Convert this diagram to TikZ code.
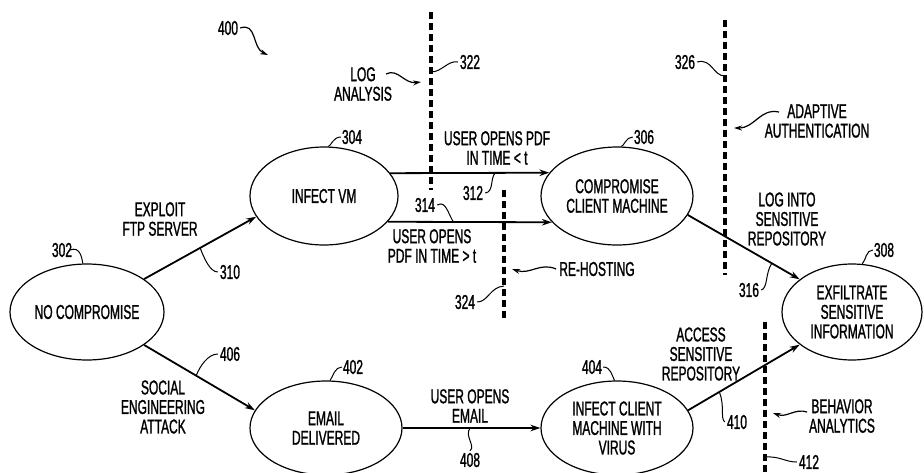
\documentclass[tikz,border=0pt]{standalone}
\usepackage{fontspec}
\setmainfont{Liberation Sans}[FakeStretch=0.6,FakeBold=1.2]
\usetikzlibrary{shapes.geometric,arrows.meta}
\newcommand\figfont{\fontsize{20}{19.5}\selectfont}
\begin{document}
\begin{tikzpicture}[x=1pt,y=-1pt,
  state/.style={ellipse,draw,line width=1.2pt,inner sep=0pt,align=center,font=\figfont},
  lbl/.style={font=\figfont,align=center,inner sep=0pt},
  flow/.style={line width=1.8pt,-{Stealth[length=10pt,width=6.5pt]}},
  lead/.style={line width=1pt},
  leadarrow/.style={line width=1.2pt,-{Stealth[length=8pt,width=5pt]}},
  barrier/.style={line width=3.6pt,dash pattern=on 7pt off 4pt}]
\useasboundingbox (0,0) rectangle (924,472);

% states
\node[state,minimum width=154pt,minimum height=96pt] (n302) at (87,312) {NO COMPROMISE};
\node[state,minimum width=148pt,minimum height=98pt] (n304) at (324,196) {INFECT VM};
\node[state,minimum width=152pt,minimum height=98pt] (n306) at (617,196) {COMPROMISE\\CLIENT MACHINE};
\node[state,minimum width=140pt,minimum height=96pt] (n308) at (852,312) {EXFILTRATE\\SENSITIVE\\INFORMATION};
\node[state,minimum width=152pt,minimum height=94pt] (n402) at (326,428) {EMAIL\\DELIVERED};
\node[state,minimum width=152pt,minimum height=94pt] (n404) at (617,428) {INFECT CLIENT\\MACHINE WITH\\VIRUS};

% transitions
\draw[flow] (n302.30) -- coordinate[pos=0.5] (c310) (n304.197);
\draw[flow] (n302.-30) -- coordinate[pos=0.47] (c406) (n402.166);
\draw[flow] (n304.19.4) -- coordinate[pos=0.66] (c312) (n306.161.1);
\draw[flow] (n304.-22.5) -- coordinate[pos=0.40] (c314) (n306.202);
\draw[flow] (n306.-15) -- coordinate[pos=0.75] (c316) (n308.148);
\draw[flow] (n402.east) -- coordinate[pos=0.49] (c408) (n404.west);
\draw[flow] (n404.14) -- coordinate[pos=0.28] (c410) (n308.212);

% transition labels
\node[lbl] (tftp) at (160,219) {EXPLOIT\\FTP SERVER};
\node[lbl] (tsoc) at (163,407) {SOCIAL\\ENGINEERING\\ATTACK};
\node[lbl] (tlt) at (497,148) {USER OPENS PDF\\IN TIME < t};
\node[lbl] (tgt) at (432,246) {USER OPENS\\PDF IN TIME > t};
\node[lbl] (tlog) at (787,219) {LOG INTO\\SENSITIVE\\REPOSITORY};
\node[lbl] (tmail) at (470,406) {USER OPENS\\EMAIL};
\node[lbl] (tacc) at (701,354) {ACCESS\\SENSITIVE\\REPOSITORY};

% barriers
\coordinate (b322a) at (431,12);  \coordinate (b322b) at (431,190);
\coordinate (b324a) at (504,190); \coordinate (b324b) at (504,320);
\coordinate (b326a) at (725,20);  \coordinate (b326b) at (725,275);
\coordinate (b412a) at (765,322); \coordinate (b412b) at (765,472);
\draw[barrier] (b322a) -- (b322b);
\draw[barrier] (b324a) -- (b324b);
\draw[barrier] (b326a) -- (b326b);
\draw[barrier] (b412a) -- (b412b);

% barrier names
\node[lbl] (nlog) at (363,84) {LOG\\ANALYSIS};
\node[lbl] (nrehost) at (597,269) {RE-HOSTING};
\node[lbl] (nadapt) at (817,121) {ADAPTIVE\\AUTHENTICATION};
\node[lbl] (nbeh) at (842,416) {BEHAVIOR\\ANALYTICS};
\coordinate (slog) at (386,74);   \coordinate (elog) at (421,82);
\coordinate (sadapt) at (779,112); \coordinate (eadapt) at (734,128);
\coordinate (erehost) at (512,269);
\coordinate (sbeh) at (807,412);  \coordinate (ebeh) at (773,413);
\draw[leadarrow] (slog) .. controls (398,68) and (404,84) .. (elog);
\draw[leadarrow] (sadapt) .. controls (760,108) and (755,128) .. (eadapt);
\draw[leadarrow] ([xshift=-3pt]nrehost.west) .. controls (540,262) and (530,275) .. (erehost);
\draw[leadarrow] (sbeh) .. controls (795,408) and (787,418) .. (ebeh);

% figure number
\node[lbl] (n400) at (228,28) {400};
\coordinate (c400) at (268,55);
\draw[leadarrow] ([xshift=2pt]n400.east) .. controls (257,22) and (252,48) .. (c400);

% reference numerals
\node[lbl] (r302) at (62,250) {302};
\node[lbl] (r304) at (352,137) {304};
\node[lbl] (r306) at (644,137) {306};
\node[lbl] (r308) at (884,250) {308};
\node[lbl] (r402) at (353,367) {402};
\node[lbl] (r404) at (592,367) {404};
\node[lbl] (r310) at (230,272) {310};
\node[lbl] (r406) at (230,354) {406};
\node[lbl] (r312) at (473,193) {312};
\node[lbl] (r314) at (425,205) {314};
\node[lbl] (r316) at (749,290) {316};
\node[lbl] (r410) at (737,422) {410};
\node[lbl] (r408) at (470,460) {408};
\node[lbl] (r322) at (470,62) {322};
\node[lbl] (r326) at (685,62) {326};
\node[lbl] (r324) at (465,302) {324};
\node[lbl] (r412) at (809,462) {412};
\coordinate (c322) at (431,72);
\coordinate (c326) at (725,76);
\coordinate (c324) at (504,286);
\coordinate (c412) at (765,457);

\draw[lead] ([xshift=-2pt]r302.east) .. controls (80,246) and (82,258) .. (n302.95);
\draw[lead] ([xshift=-1pt]r304.west) .. controls (333,137) and (331,146) .. (n304.85);
\draw[lead] ([xshift=-1pt]r306.west) .. controls (626,137) and (624,146) .. (n306.85);
\draw[lead] ([xshift=-1pt]r308.west) .. controls (866,250) and (866,260) .. (n308.78);
\draw[lead] ([xshift=-1pt]r402.west) .. controls (335,367) and (333,376) .. (n402.85);
\draw[lead] ([xshift=1pt]r404.east) .. controls (611,367) and (612,376) .. (n404.93);
\draw[lead] ([xshift=-2pt]r310.west) .. controls (210,272) and (204,258) .. (c310);
\draw[lead] ([xshift=-2pt]r406.west) .. controls (208,354) and (200,366) .. (c406);
\draw[lead] ([xshift=2pt]r312.east) .. controls (494,192) and (490,178) .. (c312);
\draw[lead] ([xshift=2pt]r314.east) .. controls (446,200) and (448,214) .. (c314);
\draw[lead] ([xshift=2pt]r316.east) .. controls (768,288) and (765,274) .. (c316);
\draw[lead] ([xshift=-2pt]r410.west) .. controls (720,418) and (725,406) .. (c410);
\draw[lead] ([yshift=2pt]r408.north) .. controls (476,446) and (464,436) .. (c408);
\draw[lead] ([xshift=-2pt]r322.west) .. controls (448,60) and (442,72) .. (c322);
\draw[lead] ([xshift=2pt]r326.east) .. controls (712,58) and (713,76) .. (c326);
\draw[lead] ([xshift=2pt]r324.east) .. controls (488,302) and (490,287) .. (c324);
\draw[lead] ([xshift=-2pt]r412.west) .. controls (785,462) and (780,456) .. (c412);
\end{tikzpicture}
\end{document}
